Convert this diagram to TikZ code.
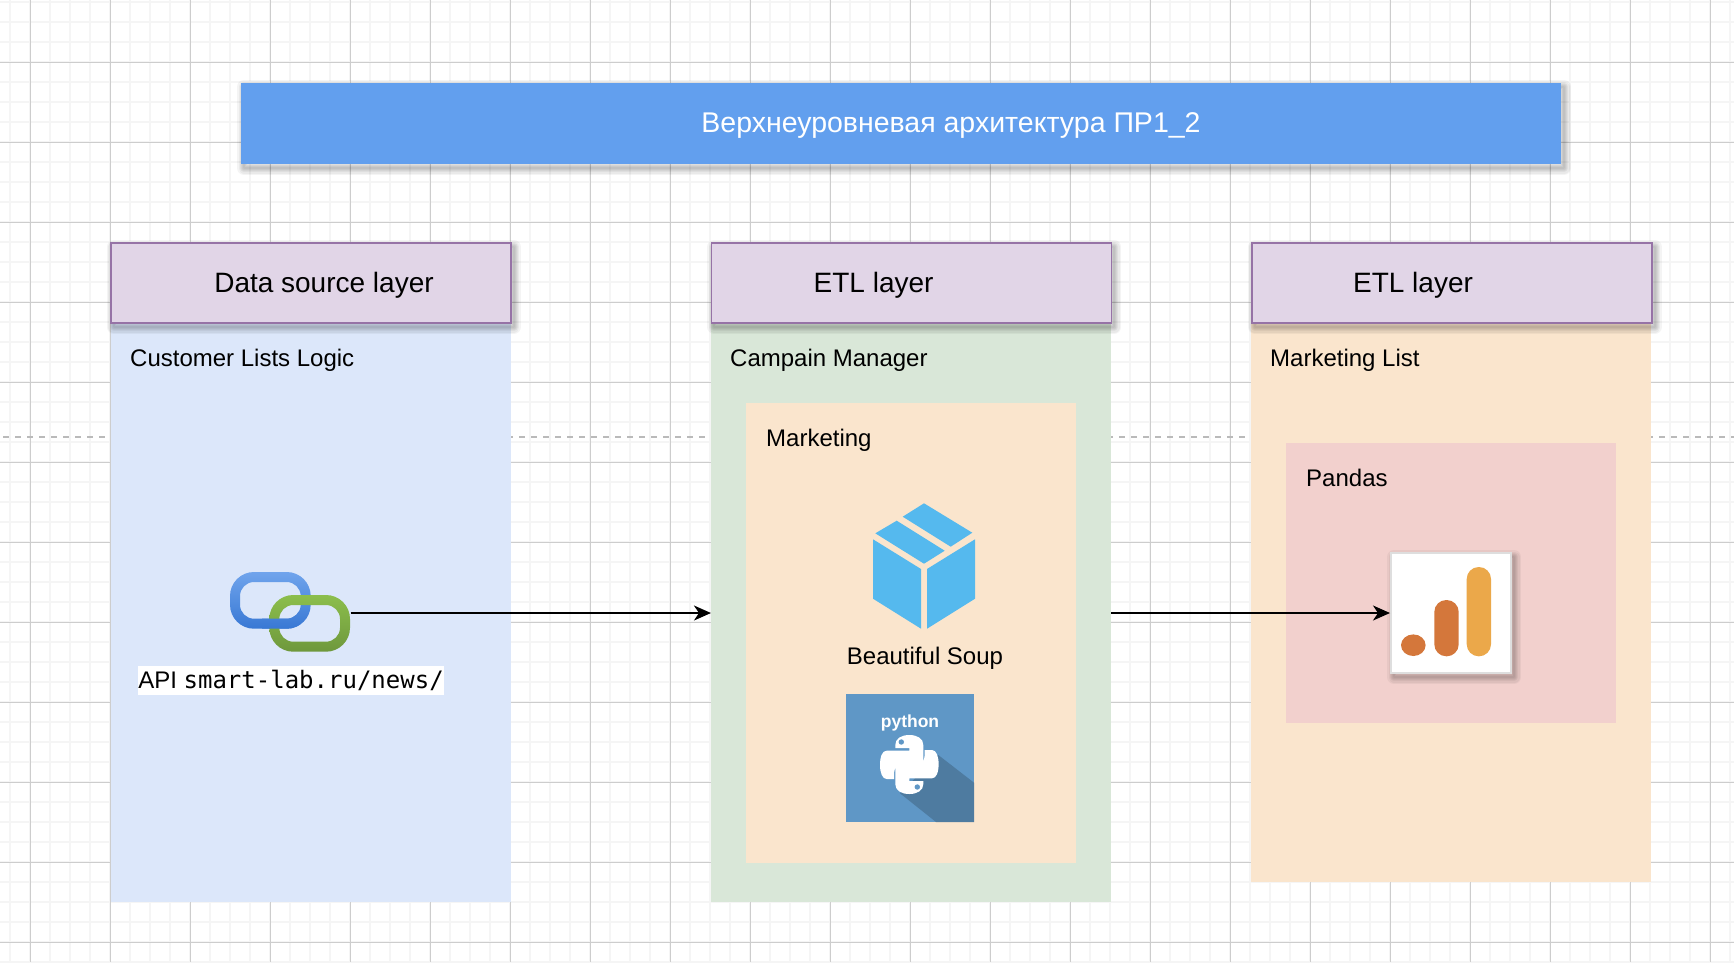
\documentclass[tikz,border=0pt]{standalone}
\usepackage{fontspec}
\setmainfont{Liberation Sans}
\setmonofont{DejaVu Sans Mono}
\usetikzlibrary{arrows.meta, positioning}

\definecolor{gridmajor}{HTML}{CDCDCD}
\definecolor{gridminor}{HTML}{F5F5F5}
\definecolor{titleblue}{HTML}{629FEE}
\definecolor{headfill}{HTML}{E1D5E7}
\definecolor{headline}{HTML}{9673A6}
\definecolor{laneblue}{HTML}{DCE7FA}
\definecolor{lanegreen}{HTML}{D9E7D8}
\definecolor{laneorange}{HTML}{FAE5CD}
\definecolor{lanered}{HTML}{F2D0CD}
\definecolor{boxblue}{HTML}{55B9EE}
\definecolor{pyblue}{HTML}{5F97C6}
\definecolor{pyshade}{HTML}{4E7BA0}
\definecolor{barlow}{HTML}{D4773B}
\definecolor{barhigh}{HTML}{EBA84A}
\definecolor{chainbluetop}{HTML}{70A4EC}
\definecolor{chainbluelow}{HTML}{3878D4}
\definecolor{chaingreentop}{HTML}{8CBE4C}
\definecolor{chaingreenlow}{HTML}{6E983C}

\tikzset{
  shadowrim/.style={preaction={draw=black,draw opacity=.045,fill=none,line width=#1,line join=round,transform canvas={xshift=3pt,yshift=-4pt}}},
  softshadow/.style={shadowrim=14pt,shadowrim=11pt,shadowrim=8pt,shadowrim=6pt,shadowrim=4pt,shadowrim=2pt},
  titlebox/.style={fill=titleblue,minimum width=1320pt,minimum height=81pt,inner sep=0pt,softshadow},
  headbox/.style={fill=headfill,draw=headline,line width=1.6pt,minimum width=400pt,minimum height=80pt,inner sep=0pt,softshadow},
  lanebox/.style={minimum width=400pt,inner sep=0pt},
  innerbox/.style={minimum width=330pt,inner sep=0pt},
  headtext/.style={anchor=base,inner sep=0pt,font=\fontsize{28}{32}\selectfont},
  lanetext/.style={anchor=base west,inner sep=0pt,font=\fontsize{24}{28}\selectfont},
  chainblue/.style={even odd rule,top color=chainbluetop,bottom color=chainbluelow,rounded corners=24pt},
  chaingreen/.style={even odd rule,top color=chaingreentop,bottom color=chaingreenlow,rounded corners=24pt},
  link/.style={->,>={Stealth[length=17pt,width=15pt,inset=5pt]},line width=1.6pt},
}

\begin{document}
\begin{tikzpicture}[x=1pt,y=-1pt]
  \useasboundingbox (0,0) rectangle (1734,962);

% define the paper grid
  \fill[white] (0,0) rectangle (1734,962);
  \foreach \gx in {10,30,...,1730}
    \draw[gridminor,line width=2pt] (\gx,0) -- (\gx,962);
  \foreach \gy in {2,22,...,962}
    \draw[gridminor,line width=2pt] (0,\gy) -- (1734,\gy);
  \foreach \gx in {30,110,...,1710}
    \draw[gridmajor,line width=1pt] (\gx,0) -- (\gx,962);
  \foreach \gy in {62,142,...,942}
    \draw[gridmajor,line width=1pt] (0,\gy) -- (1734,\gy);

  \coordinate (dashl) at (3,436.7);
  \coordinate (dashr) at (1734,436.7);
  \draw[black!27,line width=1.6pt,dash pattern=on 6pt off 6pt] (dashl) -- (dashr);

% define the title
  \node[titlebox] (title) at (901,123.5) {};
  \node[anchor=base,inner sep=0pt,text=white,font=\fontsize{28.5}{32}\selectfont] (titletext) at (951,132) {Верхнеуровневая архитектура ПР1\_2};

% define the lanes
  \node[lanebox,fill=laneblue,minimum height=578pt] (lane1) at (310.75,613) {};
  \node[lanebox,fill=lanegreen,minimum height=578pt] (lane2) [right=200pt of lane1] {};
  \node[lanebox,fill=laneorange,minimum height=639pt,anchor=north west] (lane3) at (1251,243) {};
  \node[innerbox,fill=laneorange,minimum height=460pt,anchor=north west] (market) at (746,403) {};
  \node[innerbox,fill=lanered,minimum height=280pt,anchor=north west] (pandas) at (1286,443) {};

% define the lane heads
  \node[headbox] (head1) at (310.75,283) {};
  \node[headbox] (head2) [right=199pt of head1] {};
  \node[headbox] (head3) [right=139pt of head2] {};
  \node[headtext] (head1text) at (324,292.7) {Data source layer};
  \node[headtext] (head2text) at (873.6,292.7) {ETL layer};
  \node[headtext] (head3text) at (1413,292.7) {ETL layer};

  \node[lanetext] (lane1text) at (130,366.7) {Customer Lists Logic};
  \node[lanetext] (lane2text) at (730,366.7) {Campain Manager};
  \node[lanetext] (lane3text) at (1270,366.7) {Marketing List};
  \node[lanetext] (markettext) at (766,446.5) {Marketing};
  \node[lanetext] (pandastext) at (1306,486.5) {Pandas};

% the chain links of the API
  \node[minimum width=120pt,minimum height=80pt,inner sep=0pt] (api) at (290.5,613) {};
  \shade[chainblue] (230,572) rectangle (310.7,628.7) [rounded corners=14pt] (240,582) rectangle (300.7,618.7);
  \shade[chaingreen] (269.3,595) rectangle (350,651.7) [rounded corners=14pt] (279.3,605) rectangle (340,641.7);
  \begin{scope}
    \clip (262,612) rectangle (300,640);
    \shade[chainblue] (230,572) rectangle (310.7,628.7) [rounded corners=14pt] (240,582) rectangle (300.7,618.7);
  \end{scope}
  \node[fill=white,inner sep=0pt,minimum width=306pt,minimum height=29pt,font=\fontsize{24}{28}\selectfont] (apitext) at (291,680.5) {API \texttt{smart-lab.ru/news/}};

% the box of Beautiful Soup
  \fill[boxblue] (924,503.3) -- (972.3,532.7) -- (950.7,546.7) -- (902.7,516.7) -- cycle;
  \fill[boxblue] (896.7,520.7) -- (944.7,550.7) -- (924,563.7) -- (875.3,533.3) -- cycle;
  \fill[boxblue] (873,539.3) -- (921,569) -- (921,628.7) -- (873,598.7) -- cycle;
  \fill[boxblue] (927,569) -- (975,539.3) -- (975,598.7) -- (927,628.7) -- cycle;
  \node[lanetext,anchor=base] (souptext) at (925,664) {Beautiful Soup};

% the python tile
  \node[fill=pyblue,minimum size=128pt,inner sep=0pt] (pytile) at (910,758) {};
  \fill[pyshade] (938.3,755) -- (974,782.7) -- (974,822) -- (936,822) -- (900,793.3) -- cycle;
  \node[inner sep=0pt,text=white,font=\bfseries\fontsize{17.5}{20}\selectfont] (pytext) at (910,723) {python};
  \begin{scope}[shift={(909.3,764.5)}]
    \foreach \ang in {0,180}
      \fill[white,rotate=\ang] (-14,-19.5) .. controls (-14,-26) and (-8,-29.5) .. (0,-29.5)
        .. controls (8,-29.5) and (14,-26) .. (14,-19.5) -- (14,-4.5)
        .. controls (14,-1) and (12,0.5) .. (9,0.5) -- (-7.7,0.5)
        .. controls (-12,0.5) and (-15.3,4) .. (-15.3,8.8) -- (-15.3,14.5) -- (-22.7,14.5)
        .. controls (-27,14.5) and (-29.3,8) .. (-29.3,0.5)
        .. controls (-29.3,-8) and (-27,-13.8) .. (-22.7,-13.8) -- (0,-13.8) -- (0,-16.5) -- (-14,-16.5) -- cycle;
    \fill[pyblue] (-8,-22.5) circle (2.7pt);
    \fill[pyblue] (8,22.5) circle (2.7pt);
  \end{scope}

% the analytics tile
  \node[fill=white,draw=black!13,line width=2pt,minimum size=120pt,inner sep=0pt,softshadow] (chart) at (1451,613) {};
  \fill[barlow] (1413.3,645.2) ellipse (12.3pt and 10.8pt);
  \fill[barlow,rounded corners=12pt] (1434.3,600) rectangle (1458.7,656.3);
  \fill[barhigh,rounded corners=12pt] (1466.7,567) rectangle (1491,656.3);

% define the links
  \draw[link] (api.east) -- (lane2.west);
  \draw[link] (lane2.east) -- (chart.west);

\end{tikzpicture}
\end{document}
